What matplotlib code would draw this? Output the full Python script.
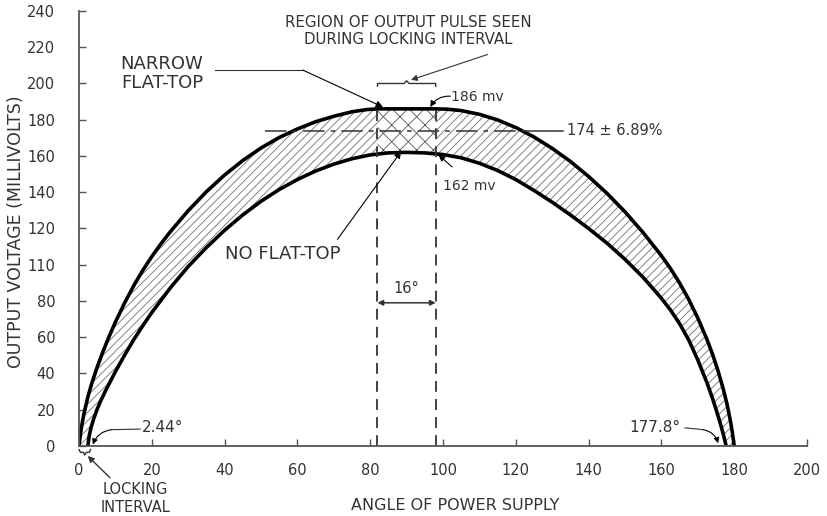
import numpy as np
import matplotlib.pyplot as plt

# Output pulse envelopes, angle (deg) vs output voltage (mV)
flat_x = [0, 0.5, 1, 1.5, 2.5, 3.5, 5, 6.5, 8, 10, 12.5, 15, 17.5, 20, 22.5, 25, 30, 35, 40,
          45, 50, 55, 60, 65, 70, 75, 79, 82,
          98, 101, 105, 110, 115, 120, 125, 130, 135, 140, 145, 150, 155, 160, 162.5,
          165, 167.5, 170, 172.5, 174, 175.5, 177, 178, 179, 179.5, 180]
flat_y = [0, 8, 14, 19, 27.5, 34.5, 43.5, 51.6, 59.1, 68.3, 78.8, 88.3, 96.8, 104.5, 111.5, 118,
          129.8, 140.3, 149.5, 157.5, 164.4, 170.2, 174.9, 178.9, 181.9, 184.4, 185.6, 186,
          186, 185.85, 185.05, 183, 179.9, 175.7, 170.5, 164.2, 157, 148.7, 139.5, 129.2, 117.7,
          105, 97.9, 89.9, 80.9, 70.6, 58.9, 50.9, 41.9, 31.4, 23.4, 13.4, 7.4, 0]

noflat_x = [2.44, 2.8, 3.3, 4, 5, 6, 7.5, 10, 12.5, 15, 17.5, 20, 25, 30, 35, 40, 45, 50,
            55, 60, 65, 70, 75, 80, 85, 90,
            95, 100, 105, 110, 115, 120, 125, 130, 135, 140, 145, 150, 155, 160,
            162.5, 165, 167.5, 170, 172.5, 174, 175, 176, 177, 177.8]
noflat_y = [0, 5.5, 10, 14.8, 20.3, 25, 31.3, 41, 50, 58.5, 66.3, 73.6, 87, 99, 109.5, 119, 127.5,
            135, 141.5, 147, 151.7, 155.5, 158.5, 160.6, 161.7, 162,
            161.7, 160.8, 159, 156, 152, 147, 141, 134.5, 127.5, 120, 112, 103, 93, 81.5,
            75, 67.5, 58.5, 47.5, 35, 26.5, 20.3, 13.7, 6.6, 0]

# locking interval window
lock_lo, lock_hi = 82, 98
mean_level = 174

xticks = [0, 20, 40, 60, 80, 100, 120, 140, 160, 180, 200]
yticks = [0, 20, 40, 60, 80, 100, 120, 140, 160, 180, 200, 220, 240]
ytick_labels = ["0", "20", "40", "60", "80", "110", "120", "140", "160", "180", "200", "220", "240"]

ink = "#333333"
plt.rcParams["hatch.linewidth"] = 0.6
plt.rcParams["font.family"] = "DejaVu Sans"

fig = plt.figure(figsize=(8.27, 5.16), dpi=100)
ax = fig.add_axes([0.0955, 0.1357, 0.8803, 0.843])

fx, fy = np.array(flat_x), np.array(flat_y)
nx, ny = np.array(noflat_x), np.array(noflat_y)

# hatched band between the two envelopes
ax.fill(np.r_[fx, nx[::-1]], np.r_[fy, ny[::-1]], facecolor="none",
        edgecolor="#707070", hatch="////", linewidth=0)

# cross-hatched locking-interval window
sel = (nx > lock_lo) & (nx < lock_hi)
wx = np.r_[lock_lo, lock_hi, lock_hi, nx[sel][::-1], lock_lo]
wy = np.r_[186, 186, np.interp(lock_hi, nx, ny), ny[sel][::-1], np.interp(lock_lo, nx, ny)]
ax.fill(wx, wy, facecolor="white", edgecolor="#555555", hatch="xx", linewidth=0)

ax.plot(fx, fy, color="black", lw=2.6, solid_joinstyle="round")
ax.plot(nx, ny, color="black", lw=2.6, solid_joinstyle="round")

# dashed verticals bounding the window
for xv in (lock_lo, lock_hi):
    ax.plot([xv, xv], [0, 186], color=ink, lw=1.3, ls=(0, (6, 4)))

# mean level line
ax.plot([51, 122], [mean_level, mean_level], color=ink, lw=1.1, ls=(0, (14, 4, 3, 4)))
ax.plot([122, 133], [mean_level, mean_level], color=ink, lw=1.1)
ax.text(134, mean_level, "174 \u00b1 6.89%", color=ink, fontsize=10.5, va="center", ha="left")

# 16 degree dimension
ax.annotate("", xy=(lock_lo, 79), xytext=(lock_hi, 79),
            arrowprops=dict(arrowstyle="<|-|>", color=ink, lw=1.1, mutation_scale=8,
                            shrinkA=0, shrinkB=0))
ax.text(90, 87, "16\u00b0", color=ink, fontsize=10.5, ha="center", va="center")

# brace over the window
bx = [lock_lo, lock_lo, 89.3, 90, 90.7, lock_hi, lock_hi]
by = [198.5, 200, 200, 201.5, 200, 200, 198.5]
ax.plot(bx, by, color=ink, lw=1.0)
ax.annotate("", xy=(90.5, 201.5), xytext=(113, 216.5),
            arrowprops=dict(arrowstyle="-|>", color=ink, lw=0.8, mutation_scale=9))
ax.text(90.5, 229, "REGION OF OUTPUT PULSE SEEN\nDURING LOCKING INTERVAL", color=ink,
        fontsize=10.8, ha="center", va="center", linespacing=1.2)

# envelope labels
ax.text(22.8, 205.7, "NARROW\nFLAT-TOP", color=ink, fontsize=13, ha="center", va="center",
        linespacing=1.05)
ax.plot([37.5, 61.5], [207.4, 207.4], color=ink, lw=0.8)
ax.annotate("", xy=(83.5, 187), xytext=(61.5, 207.4),
            arrowprops=dict(arrowstyle="-|>", color="black", lw=0.8, mutation_scale=10,
                            shrinkA=0, shrinkB=0))

ax.text(56, 106, "NO FLAT-TOP", color=ink, fontsize=13, ha="center", va="center")
ax.annotate("", xy=(88.5, 162.5), xytext=(71, 114),
            arrowprops=dict(arrowstyle="-|>", color="black", lw=0.8, mutation_scale=10,
                            shrinkA=0, shrinkB=0))

ax.text(102.3, 192.5, "186 mv", color=ink, fontsize=10, ha="left", va="center")
ax.annotate("", xy=(96.5, 187), xytext=(102, 193),
            arrowprops=dict(arrowstyle="-|>", color="black", lw=0.8, mutation_scale=9,
                            shrinkA=0, shrinkB=0, connectionstyle="arc3,rad=0.3"))

ax.text(100, 143.5, "162 mv", color=ink, fontsize=10, ha="left", va="center")
ax.annotate("", xy=(98.8, 160.5), xytext=(102.5, 154),
            arrowprops=dict(arrowstyle="-|>", color="black", lw=0.8, mutation_scale=9,
                            shrinkA=0, shrinkB=0))

# zero-crossing labels
ax.text(17.3, 10, "2.44\u00b0", color=ink, fontsize=11, ha="left", va="center")
ax.plot([9, 16.8], [9, 9.3], color=ink, lw=0.8)
ax.annotate("", xy=(3.8, 0.8), xytext=(9, 9),
            arrowprops=dict(arrowstyle="-|>", color="black", lw=0.8, mutation_scale=8,
                            shrinkA=0, shrinkB=0, connectionstyle="arc3,rad=0.3"))

ax.text(151.3, 10, "177.8\u00b0", color=ink, fontsize=11, ha="left", va="center")
ax.plot([166.5, 171.5], [10, 9], color=ink, lw=0.8)
ax.annotate("", xy=(175.6, 1.5), xytext=(171.5, 9),
            arrowprops=dict(arrowstyle="-|>", color="black", lw=0.8, mutation_scale=8,
                            shrinkA=0, shrinkB=0, connectionstyle="arc3,rad=-0.3"))

# locking interval brace below the axis
ax.plot([0, 0.4, 1.2, 1.6, 2.0, 2.8, 3.2], [-2, -3.5, -3.5, -5, -3.5, -3.5, -2],
        color=ink, lw=1.0, clip_on=False)
ax.annotate("", xy=(2.4, -5.5), xytext=(8.5, -17.5), annotation_clip=False,
            arrowprops=dict(arrowstyle="-|>", color=ink, lw=1.0, mutation_scale=9,
                            shrinkA=0, shrinkB=0))
ax.text(15.4, -29.2, "LOCKING\nINTERVAL", color=ink, fontsize=10.5, ha="center", va="center",
        linespacing=1.25, clip_on=False)

# axes styling
ax.set_xlim(0, 200)
ax.set_ylim(0, 240)
ax.set_xticks(xticks)
ax.set_yticks(yticks)
ax.set_yticklabels(ytick_labels)
for side in ("top", "right"):
    ax.spines[side].set_visible(False)
for side in ("left", "bottom"):
    ax.spines[side].set_color("#555555")
    ax.spines[side].set_linewidth(1.3)
ax.tick_params(axis="both", direction="in", length=5, width=1.0, color="#555555",
               labelcolor=ink, labelsize=10.5)
ax.tick_params(axis="y", pad=17)
ax.tick_params(axis="x", pad=12)

fig.text(455 / 827, 1 - 505 / 516, "ANGLE OF POWER SUPPLY", color=ink, fontsize=11.5,
         ha="center", va="center")
fig.text(16 / 827, 1 - 232 / 516, "OUTPUT VOLTAGE (MILLIVOLTS)", color=ink, fontsize=12.5,
         ha="center", va="center", rotation=90)

fig.savefig("out.png", dpi=100)
